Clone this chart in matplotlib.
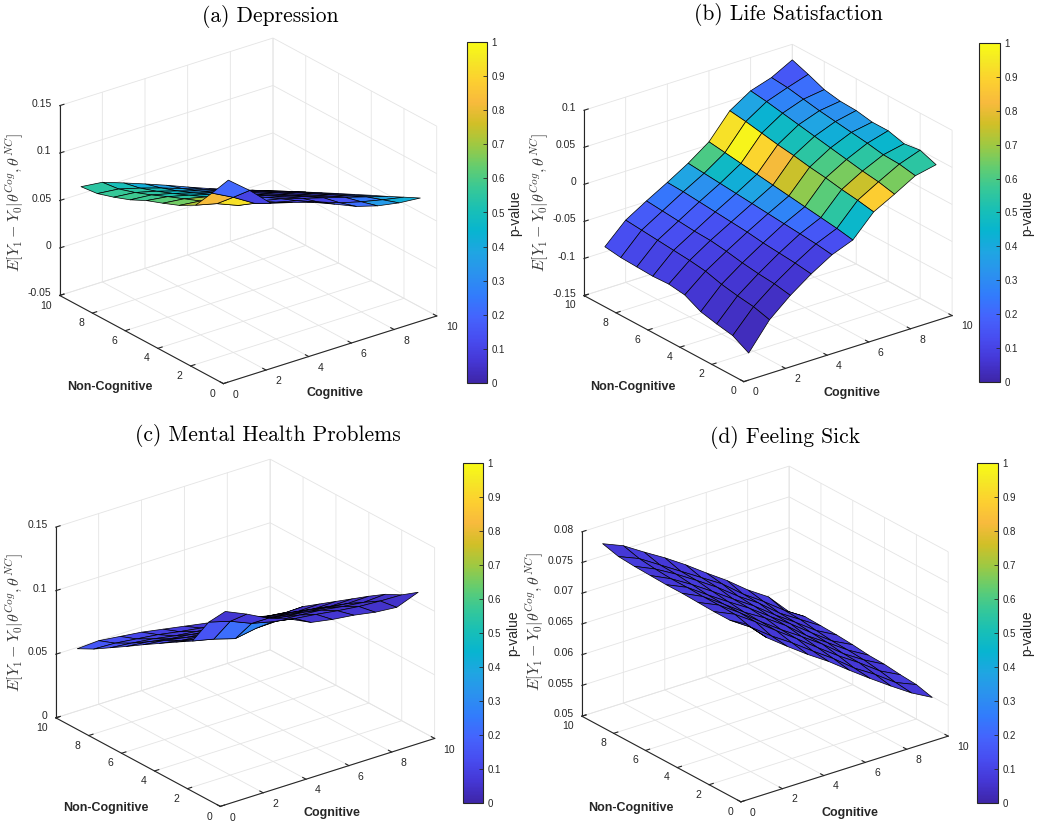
import matplotlib
matplotlib.use("Agg")
import matplotlib.pyplot as plt
from matplotlib.colors import LinearSegmentedColormap, Normalize
from matplotlib.cm import ScalarMappable
from matplotlib.ticker import FuncFormatter
from mpl_toolkits.mplot3d import proj3d
from mpl_toolkits.mplot3d.art3d import Poly3DCollection

plt.rcParams['font.family'] = ['Liberation Sans', 'DejaVu Sans']
plt.rcParams['mathtext.fontset'] = 'cm'

# grid of skill deciles (both axes)
grid = [1, 2, 3, 4, 5, 6, 7, 8, 9, 10]
xy_ticks = [0, 2, 4, 6, 8, 10]

# ---- (a) Depression: rows = Non-Cognitive 1..10, cols = Cognitive 1..10
dep_z = [
    [0.1480, 0.1300, 0.1093, 0.1030, 0.0960, 0.0870, 0.0775, 0.0710, 0.0670, 0.0650],
    [0.1250, 0.1135, 0.1000, 0.0940, 0.0885, 0.0800, 0.0720, 0.0660, 0.0610, 0.0566],
    [0.1030, 0.0975, 0.0885, 0.0860, 0.0812, 0.0745, 0.0680, 0.0614, 0.0547, 0.0481],
    [0.0935, 0.0910, 0.0860, 0.0802, 0.0735, 0.0667, 0.0599, 0.0532, 0.0464, 0.0400],
    [0.0865, 0.0840, 0.0788, 0.0726, 0.0658, 0.0588, 0.0519, 0.0450, 0.0383, 0.0316],
    [0.0800, 0.0770, 0.0714, 0.0650, 0.0580, 0.0509, 0.0439, 0.0368, 0.0301, 0.0233],
    [0.0715, 0.0695, 0.0640, 0.0574, 0.0503, 0.0430, 0.0359, 0.0289, 0.0219, 0.0148],
    [0.0650, 0.0628, 0.0570, 0.0502, 0.0430, 0.0354, 0.0281, 0.0208, 0.0136, 0.0063],
    [0.0595, 0.0572, 0.0510, 0.0440, 0.0362, 0.0282, 0.0203, 0.0128, 0.0052, -0.0023],
    [0.0575, 0.0550, 0.0472, 0.0390, 0.0305, 0.0215, 0.0128, 0.0046, -0.0032, -0.0110],
]
dep_p = [
    [0.20, 0.10, 0.09, 0.09, 0.10, 0.18, 0.22, 0.35, 0.42],
    [0.82, 0.93, 0.97, 0.12, 0.10, 0.10, 0.15, 0.25, 0.38],
    [0.72, 0.90, 0.95, 0.15, 0.10, 0.09, 0.10, 0.18, 0.30],
    [0.65, 0.70, 0.60, 0.20, 0.12, 0.10, 0.09, 0.12, 0.22],
    [0.62, 0.55, 0.45, 0.30, 0.15, 0.10, 0.09, 0.10, 0.15],
    [0.58, 0.52, 0.45, 0.35, 0.20, 0.12, 0.10, 0.09, 0.12],
    [0.58, 0.55, 0.48, 0.38, 0.25, 0.15, 0.10, 0.09, 0.10],
    [0.57, 0.55, 0.50, 0.40, 0.30, 0.18, 0.12, 0.10, 0.10],
    [0.55, 0.50, 0.42, 0.36, 0.28, 0.20, 0.14, 0.11, 0.10],
]
dep_zticks = [-0.05, 0, 0.05, 0.1, 0.15]

# ---- (b) Life Satisfaction
life_z = [
    [-0.132, -0.096, -0.072, -0.052, -0.035, -0.024, 0.005, 0.020, 0.036, 0.042],
    [-0.120, -0.090, -0.068, -0.049, -0.032, -0.020, 0.009, 0.025, 0.040, 0.050],
    [-0.116, -0.087, -0.066, -0.047, -0.030, -0.017, 0.012, 0.028, 0.041, 0.047],
    [-0.111, -0.083, -0.063, -0.045, -0.028, -0.014, 0.016, 0.032, 0.045, 0.053],
    [-0.100, -0.077, -0.059, -0.042, -0.026, -0.011, 0.019, 0.036, 0.048, 0.053],
    [-0.097, -0.074, -0.056, -0.040, -0.024, -0.008, 0.023, 0.040, 0.051, 0.057],
    [-0.098, -0.072, -0.055, -0.038, -0.022, -0.005, 0.026, 0.044, 0.054, 0.058],
    [-0.097, -0.070, -0.053, -0.036, -0.020, -0.002, 0.030, 0.048, 0.058, 0.062],
    [-0.096, -0.068, -0.051, -0.034, -0.018, 0.001, 0.034, 0.052, 0.062, 0.071],
    [-0.093, -0.066, -0.049, -0.033, -0.016, 0.004, 0.037, 0.055, 0.064, 0.079],
]
life_p = [
    [0.03, 0.04, 0.06, 0.09, 0.13, 0.46, 0.88, 0.66, 0.55],
    [0.04, 0.05, 0.07, 0.10, 0.16, 0.55, 0.75, 0.62, 0.50],
    [0.05, 0.06, 0.08, 0.12, 0.22, 0.62, 0.66, 0.55, 0.45],
    [0.06, 0.07, 0.10, 0.15, 0.28, 0.68, 0.60, 0.48, 0.40],
    [0.07, 0.09, 0.12, 0.18, 0.32, 0.75, 0.55, 0.42, 0.35],
    [0.09, 0.11, 0.14, 0.22, 0.38, 0.82, 0.50, 0.38, 0.32],
    [0.10, 0.13, 0.17, 0.26, 0.42, 0.90, 0.47, 0.33, 0.28],
    [0.11, 0.15, 0.20, 0.32, 0.47, 0.98, 0.44, 0.28, 0.22],
    [0.13, 0.17, 0.24, 0.38, 0.60, 0.93, 0.38, 0.22, 0.16],
]
life_zticks = [-0.15, -0.1, -0.05, 0, 0.05, 0.1]

# ---- (c) Mental Health Problems
mental_z = [
    [0.1410, 0.1336, 0.1250, 0.1190, 0.1110, 0.1080, 0.1060, 0.1030, 0.1015, 0.1080],
    [0.1257, 0.1210, 0.1140, 0.1100, 0.1070, 0.1050, 0.1025, 0.1005, 0.0995, 0.0990],
    [0.1038, 0.1000, 0.0950, 0.0980, 0.0985, 0.0975, 0.0960, 0.0935, 0.0915, 0.0925],
    [0.0960, 0.0930, 0.0900, 0.0890, 0.0900, 0.0890, 0.0875, 0.0855, 0.0835, 0.0840],
    [0.0880, 0.0850, 0.0830, 0.0810, 0.0810, 0.0805, 0.0785, 0.0770, 0.0745, 0.0750],
    [0.0800, 0.0780, 0.0750, 0.0730, 0.0720, 0.0715, 0.0695, 0.0680, 0.0655, 0.0660],
    [0.0717, 0.0700, 0.0670, 0.0650, 0.0630, 0.0625, 0.0605, 0.0590, 0.0565, 0.0570],
    [0.0637, 0.0620, 0.0600, 0.0570, 0.0550, 0.0535, 0.0515, 0.0495, 0.0475, 0.0480],
    [0.0557, 0.0550, 0.0530, 0.0510, 0.0480, 0.0455, 0.0435, 0.0405, 0.0385, 0.0365],
    [0.0490, 0.0500, 0.0480, 0.0460, 0.0430, 0.0400, 0.0370, 0.0335, 0.0305, 0.0270],
]
mental_p = [
    [0.06, 0.07, 0.06, 0.06, 0.06, 0.06, 0.06, 0.05, 0.05],
    [0.15, 0.22, 0.28, 0.07, 0.06, 0.06, 0.05, 0.05, 0.05],
    [0.12, 0.10, 0.09, 0.07, 0.06, 0.05, 0.05, 0.05, 0.05],
    [0.11, 0.09, 0.08, 0.07, 0.06, 0.05, 0.05, 0.05, 0.04],
    [0.11, 0.09, 0.08, 0.07, 0.06, 0.05, 0.05, 0.04, 0.04],
    [0.12, 0.10, 0.08, 0.07, 0.06, 0.05, 0.05, 0.04, 0.04],
    [0.13, 0.11, 0.09, 0.08, 0.07, 0.06, 0.05, 0.05, 0.04],
    [0.14, 0.12, 0.10, 0.08, 0.07, 0.06, 0.05, 0.05, 0.05],
    [0.16, 0.13, 0.11, 0.09, 0.08, 0.07, 0.06, 0.06, 0.05],
]
mental_zticks = [0, 0.05, 0.1, 0.15]

# ---- (d) Feeling Sick
sick_z = [
    [0.0765, 0.0732, 0.0707, 0.0683, 0.0661, 0.0636, 0.0612, 0.0589, 0.0567, 0.0549],
    [0.0757, 0.0735, 0.0710, 0.0688, 0.0664, 0.0641, 0.0615, 0.0594, 0.0570, 0.0556],
    [0.0757, 0.0742, 0.0719, 0.0694, 0.0670, 0.0645, 0.0621, 0.0599, 0.0575, 0.0558],
    [0.0758, 0.0743, 0.0720, 0.0695, 0.0671, 0.0649, 0.0626, 0.0600, 0.0579, 0.0561],
    [0.0759, 0.0743, 0.0720, 0.0696, 0.0676, 0.0653, 0.0626, 0.0604, 0.0581, 0.0562],
    [0.0759, 0.0744, 0.0721, 0.0699, 0.0678, 0.0654, 0.0631, 0.0606, 0.0582, 0.0565],
    [0.0760, 0.0744, 0.0724, 0.0702, 0.0679, 0.0657, 0.0632, 0.0609, 0.0585, 0.0567],
    [0.0761, 0.0746, 0.0727, 0.0706, 0.0684, 0.0659, 0.0637, 0.0610, 0.0589, 0.0568],
    [0.0763, 0.0749, 0.0728, 0.0707, 0.0686, 0.0665, 0.0638, 0.0615, 0.0590, 0.0569],
    [0.0770, 0.0756, 0.0735, 0.0715, 0.0693, 0.0669, 0.0646, 0.0620, 0.0598, 0.0563],
]
sick_p = [
    [0.07, 0.07, 0.08, 0.07, 0.08, 0.07, 0.07, 0.08, 0.07],
    [0.08, 0.07, 0.07, 0.08, 0.07, 0.08, 0.07, 0.07, 0.08],
    [0.07, 0.08, 0.07, 0.07, 0.08, 0.07, 0.08, 0.07, 0.07],
    [0.07, 0.07, 0.08, 0.07, 0.07, 0.08, 0.07, 0.08, 0.07],
    [0.08, 0.07, 0.07, 0.08, 0.07, 0.07, 0.08, 0.07, 0.08],
    [0.07, 0.08, 0.07, 0.07, 0.08, 0.07, 0.07, 0.08, 0.07],
    [0.07, 0.07, 0.08, 0.07, 0.07, 0.08, 0.07, 0.07, 0.08],
    [0.08, 0.07, 0.07, 0.08, 0.07, 0.07, 0.08, 0.07, 0.07],
    [0.07, 0.08, 0.07, 0.07, 0.08, 0.07, 0.07, 0.08, 0.07],
]
sick_zticks = [0.05, 0.055, 0.06, 0.065, 0.07, 0.075, 0.08]

titles = ['(a) Depression', '(b) Life Satisfaction',
          '(c) Mental Health Problems', '(d) Feeling Sick']
cbar_ticks = [0, 0.1, 0.2, 0.3, 0.4, 0.5, 0.6, 0.7, 0.8, 0.9, 1]

# parula-like colormap (sampled from the MATLAB map)
parula = LinearSegmentedColormap.from_list('parula', [
    (0 / 63, (0.2422, 0.1504, 0.6603)), (4 / 63, (0.2706, 0.2147, 0.8364)),
    (8 / 63, (0.2813, 0.3006, 0.9414)), (12 / 63, (0.2699, 0.3892, 0.9906)),
    (16 / 63, (0.1963, 0.4847, 0.9892)), (20 / 63, (0.1687, 0.5703, 0.9359)),
    (24 / 63, (0.1248, 0.6459, 0.8883)), (28 / 63, (0.0297, 0.7082, 0.8163)),
    (32 / 63, (0.0964, 0.7500, 0.7120)), (36 / 63, (0.2161, 0.7843, 0.5923)),
    (40 / 63, (0.3909, 0.8029, 0.4354)), (44 / 63, (0.6174, 0.7876, 0.2612)),
    (48 / 63, (0.8203, 0.7498, 0.1535)), (52 / 63, (0.9728, 0.7298, 0.2394)),
    (56 / 63, (0.9892, 0.8136, 0.1885)), (60 / 63, (0.9597, 0.9135, 0.1423)),
    (63 / 63, (0.9769, 0.9839, 0.0805))])

W, H = 1059, 822
fig = plt.figure(figsize=(W / 100, H / 100), dpi=100)

# layout in pixels: 3d axes (left, bottom, side), colorbar (left, bottom, w, h)
ax_px = [(32, 395, 421), (557, 398, 411), (28, -28, 423), (555, -22, 409)]
cb_px = [(467, 439, 20, 341), (979, 440, 21, 339), (463, 19, 20, 340), (977, 19, 21, 340)]
title_px = [(270, 16), (788, 15), (268, 435), (785, 437)]
zlab_px = [(15, 203), (540, 203), (15, 623), (535, 622)]
ncog_px = [(110, 387), (633, 387), (106, 808), (631, 808)]
cog_px = [(335, 393), (852, 393), (332, 813), (850, 813)]
pval_px = [(515, 213), (1027, 213), (513, 633), (1027, 633)]

fmt = FuncFormatter(lambda v, pos: f"{v:g}")
dark = '#262626'


def draw_surface(ax, z, p):
    verts, colors = [], []
    for j in range(len(grid) - 1):
        for i in range(len(grid) - 1):
            verts.append([(grid[i], grid[j], z[j][i]),
                          (grid[i + 1], grid[j], z[j][i + 1]),
                          (grid[i + 1], grid[j + 1], z[j + 1][i + 1]),
                          (grid[i], grid[j + 1], z[j + 1][i])])
            colors.append(parula(p[j][i]))
    ax.add_collection3d(Poly3DCollection(verts, facecolors=colors,
                                         edgecolors='black', linewidths=0.5))


panels = [(dep_z, dep_p, dep_zticks), (life_z, life_p, life_zticks),
          (mental_z, mental_p, mental_zticks), (sick_z, sick_p, sick_zticks)]
axes3d = []

for k, (z, p, zt) in enumerate(panels):
    l, b, s = ax_px[k]
    ax = fig.add_axes([l / W, b / H, s / W, s / H], projection='3d')
    ax.patch.set_facecolor('none')
    ax.set_proj_type('ortho')
    ax.view_init(elev=24.4, azim=-127.5)
    ax.set_box_aspect((1, 1, 0.775))
    draw_surface(ax, z, p)
    ax.set_xlim(0, 10)
    ax.set_ylim(0, 10)
    ax.set_zlim(zt[0], zt[-1])
    ax.set_xticks(xy_ticks)
    ax.set_yticks(xy_ticks)
    ax.set_zticks(zt)
    ax.set_xticklabels([])
    ax.set_yticklabels([])
    ax.set_zticklabels([])
    for axis in (ax.xaxis, ax.yaxis, ax.zaxis):
        axis.set_pane_color((1, 1, 1, 0))
        axis.pane.set_edgecolor('#dcdcdc')
        axis.line.set_color(dark)
        axis.line.set_linewidth(0.8)
        axis._axinfo['grid'].update(color='#e4e4e4', linewidth=0.6)
        axis._axinfo['tick']['inward_factor'] = 0.0
        axis._axinfo['tick']['outward_factor'] = 0.25
    ax.tick_params(colors=dark, width=0.6)
    axes3d.append(ax)

    tx, ty = title_px[k]
    fig.text(tx / W, 1 - ty / H, titles[k], family='cmr10', fontsize=15.5,
             ha='center', va='center')
    zx, zy = zlab_px[k]
    fig.text(zx / W, 1 - zy / H, r'$E[Y_1-Y_0|\theta^{Cog},\theta^{NC}]$',
             fontsize=11.5, rotation=90, ha='center', va='center', color='#3a3a3a')
    nx, ny = ncog_px[k]
    fig.text(nx / W, 1 - ny / H, 'Non-Cognitive', fontsize=9, weight='bold',
             ha='center', va='center', color=dark)
    cx, cy = cog_px[k]
    fig.text(cx / W, 1 - cy / H, 'Cognitive', fontsize=9, weight='bold',
             ha='center', va='center', color=dark)

    cl, cbt, cw, ch = cb_px[k]
    cax = fig.add_axes([cl / W, cbt / H, cw / W, ch / H])
    cb = fig.colorbar(ScalarMappable(Normalize(0, 1), parula), cax=cax,
                      ticks=cbar_ticks, format=fmt)
    cb.outline.set_edgecolor(dark)
    cb.outline.set_linewidth(0.8)
    cax.tick_params(direction='in', length=3, width=0.6, labelsize=7,
                    colors=dark, pad=3)
    px_, py_ = pval_px[k]
    fig.text(px_ / W, 1 - py_ / H, 'p-value', fontsize=10, rotation=90,
             ha='center', va='center', color=dark)

# MATLAB-style horizontal tick labels: project the 3d anchor points once the
# layout is known and place them as ordinary figure texts
fig.canvas.draw()


def tick_text(ax, x, y, z, s, ha):
    xs, ys, _ = proj3d.proj_transform(x, y, z, ax.get_proj())
    dx, dy = ax.transData.transform((xs, ys))
    fig.text(dx / fig.bbox.width, dy / fig.bbox.height, s, fontsize=7.5,
             color=dark, ha=ha, va='center')


for ax, (z, p, zt) in zip(axes3d, panels):
    zr = zt[-1] - zt[0]
    for v in xy_ticks:
        tick_text(ax, v, -0.55, zt[0] - 0.033 * zr, f"{v:g}", 'left')
        tick_text(ax, -0.37, v, zt[0] - 0.04 * zr, f"{v:g}", 'right')
    for v in zt:
        tick_text(ax, -0.13, 10.33, v, f"{v:g}", 'right')

fig.savefig('out.png', dpi=100)
